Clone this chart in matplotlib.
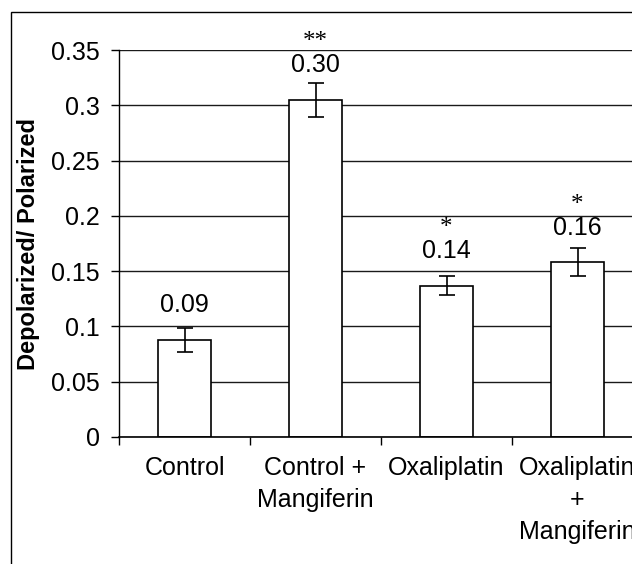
import matplotlib.pyplot as plt
import matplotlib.patches as patches
import numpy as np

plt.rcParams['font.family'] = ['Liberation Sans', 'DejaVu Sans']

# data
groups = ['Control', 'Control +\nMangiferin', 'Oxaliplatin', 'Oxaliplatin\n+\nMangiferin']
ratio = [0.088, 0.305, 0.137, 0.158]
err = [0.011, 0.0155, 0.009, 0.0125]
value_labels = ['0.09', '0.30', '0.14', '0.16']
stars = ['', '**', '*', '*']
yticks = [0, 0.05, 0.1, 0.15, 0.2, 0.25, 0.3, 0.35]
ytick_labels = ['0', '0.05', '0.1', '0.15', '0.2', '0.25', '0.3', '0.35']

W, H = 632, 564
fig = plt.figure(figsize=(W / 100, H / 100), dpi=100)

# outer frame (right and bottom edges run off the picture)
fig.patches.append(patches.Rectangle((11 / W, -0.05), 1.1, 0.05 + (H - 12) / H,
                                     transform=fig.transFigure, fill=False,
                                     edgecolor='black', linewidth=1.0, clip_on=False))

left, right = 119 / W, 643 / W
bottom, top = (H - 437) / H, (H - 50) / H
ax = fig.add_axes([left, bottom, right - left, top - bottom])

x = np.arange(len(groups))
ax.set_axisbelow(True)
ax.grid(axis='y', color='#1a1a1a', linewidth=1.0)
ax.bar(x, ratio, width=0.4, color='white', edgecolor='black', linewidth=1.2, zorder=2)
ax.errorbar(x, ratio, yerr=err, fmt='none', ecolor='black', elinewidth=1.2,
            capsize=5.5, capthick=1.2, zorder=3)

for xi, yi, lab, st in zip(x, ratio, value_labels, stars):
    ax.annotate(lab, (xi, yi), xytext=(0, 20), textcoords='offset points',
                ha='center', va='baseline', fontsize=18)
    if st:
        ax.annotate(st, (xi, yi), xytext=(0, 37), textcoords='offset points',
                    ha='center', va='baseline', fontsize=18,
                    family=['Liberation Serif', 'DejaVu Serif'])

ax.set_xlim(-0.5, 3.5)
ax.set_ylim(0, 0.35)
ax.set_yticks(yticks)
ax.set_yticklabels(ytick_labels, fontsize=18)
ax.set_xticks([-0.5, 0.5, 1.5, 2.5])
ax.set_xticklabels([])
ax.set_xticks(x, minor=True)
ax.set_xticklabels(groups, minor=True, fontsize=18, linespacing=1.4)
ax.tick_params(axis='x', which='minor', length=0, pad=14)
ax.tick_params(axis='x', which='major', length=6, width=1, direction='out')
ax.tick_params(axis='y', length=6, width=1, direction='out', pad=8)

for s in ['top', 'right']:
    ax.spines[s].set_visible(False)
ax.spines['left'].set_linewidth(1.0)
ax.spines['bottom'].set_linewidth(1.2)

ax.set_ylabel('Depolarized/ Polarized', fontsize=17, fontweight='bold', labelpad=8)

fig.savefig('out.png', dpi=100)
